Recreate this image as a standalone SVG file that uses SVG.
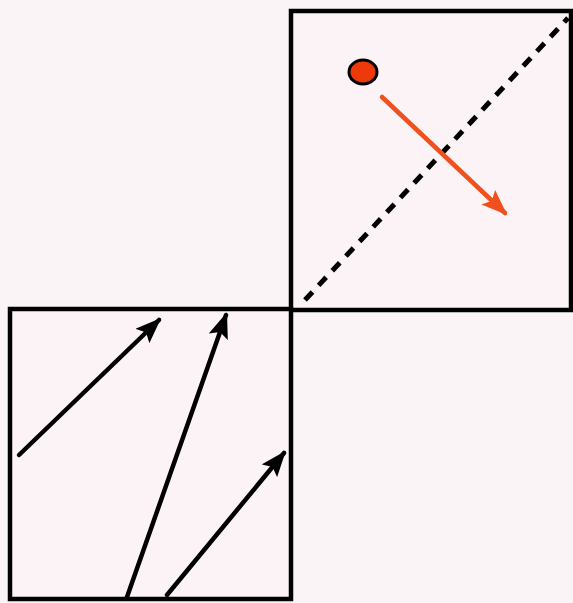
<svg xmlns="http://www.w3.org/2000/svg" width="573" height="603" viewBox="0 0 573 603">
<style>
.box{fill:#fcf3f6;stroke:#000;stroke-width:4.5}
.arr{stroke:#000;stroke-width:4.5;fill:none;stroke-linecap:round}
.orange{stroke:#f0501e;stroke-width:4.5;fill:none;stroke-linecap:round}
</style>
<defs>
<marker id="ah" viewBox="0 0 26 20" refX="23" refY="10" markerWidth="26" markerHeight="20" markerUnits="userSpaceOnUse" orient="auto">
<path d="M0,0 L26,10 L0,20 L5,10 Z" fill="#000"/>
</marker>
<marker id="ahO" viewBox="0 0 26 20" refX="23" refY="10" markerWidth="26" markerHeight="20" markerUnits="userSpaceOnUse" orient="auto">
<path d="M0,0 L26,10 L0,20 L5,10 Z" fill="#f0501e"/>
</marker>
</defs>
<rect width="573" height="603" fill="#fbf4f6"/>
<g id="topRight">
<rect class="box" x="291" y="11" width="280" height="299"/>
<line x1="305" y1="300" x2="568" y2="18" stroke="#000" stroke-width="5" stroke-dasharray="11,9"/>
<ellipse cx="363" cy="72" rx="14" ry="12" fill="#ee3a0a" stroke="#000" stroke-width="3"/>
</g>
<g id="bottomLeft">
<rect class="box" x="10" y="309" width="281" height="290"/>
</g>
<g id="connectors">
<line class="orange" x1="382" y1="97" x2="505" y2="213" marker-end="url(#ahO)"/>
<line class="arr" x1="19" y1="455" x2="159" y2="320" marker-end="url(#ah)"/>
<line class="arr" x1="127" y1="597" x2="226" y2="315" marker-end="url(#ah)"/>
<line class="arr" x1="167" y1="595" x2="284" y2="453" marker-end="url(#ah)"/>
</g>
</svg>
